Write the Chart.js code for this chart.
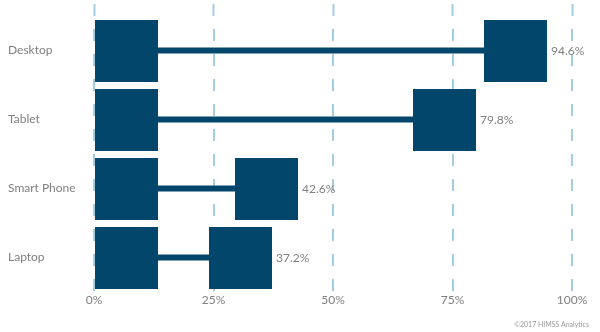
<!DOCTYPE html>
<html lang="en">
<head>
<meta charset="utf-8">
<title>Device usage</title>
<script src="https://cdn.jsdelivr.net/npm/chart.js@4.4.0/dist/chart.umd.min.js"></script>
<style>
  html, body { margin: 0; padding: 0; background: #fff; }
  #wrap { position: relative; width: 600px; height: 332px; }
  #source { position: absolute; right: 11px; bottom: 4px; font: 7px Lato, sans-serif; color: #9a9a9a; }
</style>
</head>
<body>
<div id="wrap">
  <canvas id="chart" width="600" height="332"></canvas>
  <div id="source">©2017 HIMSS Analytics</div>
</div>
<script>
const devices = ['Desktop', 'Tablet', 'Smart Phone', 'Laptop'];
const shares = [94.6, 79.8, 42.6, 37.2];
const xTicks = [0, 25, 50, 75, 100];

const navy = '#03466b';
const grey = '#808080';
const gridBlue = '#a3cde4';

// square caps at both ends of each bar, value text after the right one
const dumbbells = {
  id: 'dumbbells',
  afterDatasetsDraw(chart) {
    const ctx = chart.ctx;
    const side = 63, tall = 62;
    const bars = chart.getDatasetMeta(0).data;
    ctx.save();
    ctx.fillStyle = navy;
    bars.forEach(bar => {
      const top = Math.round(bar.y - tall / 2);
      const left = Math.floor(bar.base);
      const right = Math.ceil(bar.x);
      ctx.fillRect(left, top, side, tall);
      ctx.fillRect(right - side, top, side, tall);
    });
    ctx.fillStyle = grey;
    ctx.font = '12px Lato';
    ctx.textBaseline = 'middle';
    ctx.textAlign = 'left';
    bars.forEach((bar, i) => {
      ctx.fillText(shares[i].toFixed(1) + '%', Math.ceil(bar.x) + 4, bar.y + 1);
    });
    ctx.restore();
  }
};

const pct = {
  min: 0,
  max: 100,
  afterBuildTicks: s => { s.ticks = xTicks.map(v => ({ value: v })); }
};

new Chart(document.getElementById('chart'), {
  type: 'bar',
  data: {
    labels: devices,
    datasets: [{
      data: shares.map(v => [0, v]),
      backgroundColor: navy,
      barThickness: 6,
      inflateAmount: 0
    }]
  },
  options: {
    indexAxis: 'y',
    responsive: false,
    animation: false,
    layout: { padding: { left: 8, right: 28, top: 4, bottom: 0 } },
    plugins: { legend: { display: false }, tooltip: { enabled: false } },
    scales: {
      x: {
        ...pct,
        afterFit: s => { s.height = 40; },
        grid: { color: gridBlue, lineWidth: 2, drawTicks: false },
        border: { display: false, dash: [12, 13], dashOffset: 12 },
        ticks: {
          padding: 1,
          color: grey,
          font: { family: 'Lato', size: 12 },
          callback: v => v + '%'
        }
      },
      // top stub: first dash of each grid line, above the plot
      xTop: {
        ...pct,
        position: 'top',
        grid: { drawOnChartArea: false, drawTicks: true, tickLength: 12, tickColor: gridBlue, tickWidth: 2 },
        border: { display: false },
        ticks: { display: false }
      },
      y: {
        afterFit: s => { s.width = 86; },
        grid: { display: false },
        border: { display: false },
        ticks: {
          crossAlign: 'far',
          color: grey,
          font: { family: 'Lato', size: 12 }
        }
      }
    }
  },
  plugins: [dumbbells]
});
</script>
</body>
</html>
